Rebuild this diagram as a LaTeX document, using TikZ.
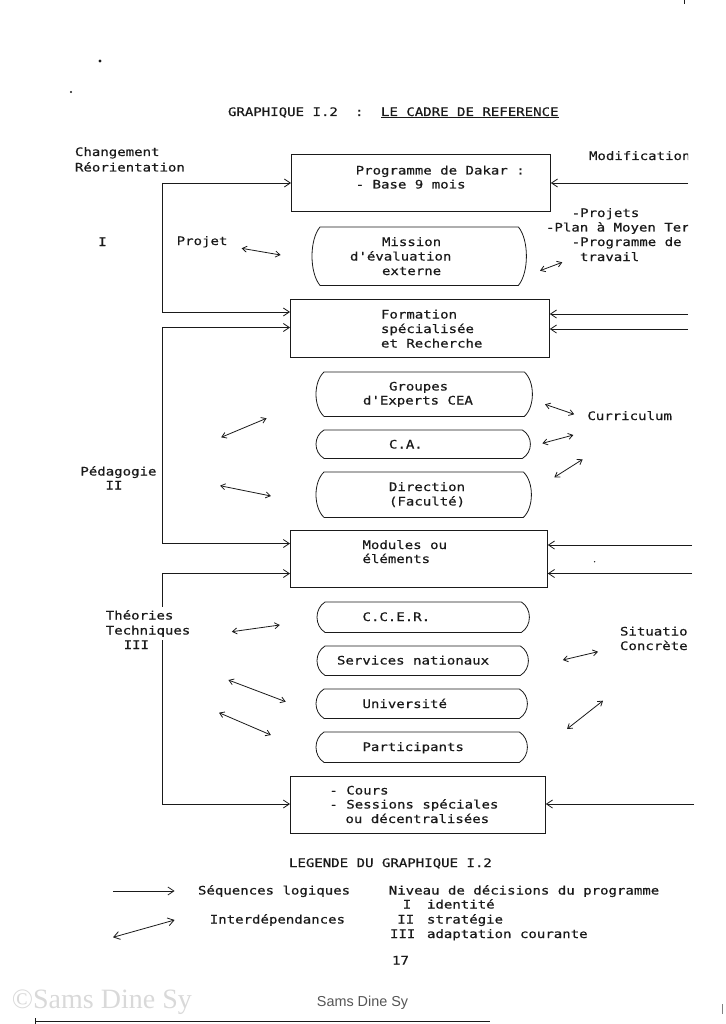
\documentclass[tikz,border=0pt]{standalone}
\usepackage{fontspec}
\newfontfamily\mono[FakeStretch=1.2,FakeBold=0.6]{DejaVu Sans Mono}
\newfontfamily\wmserif{Liberation Serif}
\newfontfamily\wmsans{Liberation Sans}
\usetikzlibrary{arrows.meta,calc}
\definecolor{ink}{HTML}{1A1A1A}
\tikzset{
  txt/.style={font=\mono\fontsize{11.7}{14}\selectfont, inner sep=0pt, outer sep=0pt, anchor=base west, text=ink},
  boxline/.style={draw=ink, line width=0.8pt},
  rbox/.style={boxline, rectangle, inner sep=0pt, anchor=north west},
  cbox/.style={rectangle, inner sep=0pt, anchor=north west},
  seq/.style={draw=ink, line width=0.8pt, -{Straight Barb[length=6pt,width=8pt]}},
  inter/.style={draw=ink, line width=0.8pt, {Straight Barb[length=4.5pt,width=6pt]}-{Straight Barb[length=4.5pt,width=6pt]}},
  speck/.style={fill=ink, draw=none}
}
\newcommand\cshape[1]{%
  \draw[boxline] ($(#1.north west)+(8,0)$) -- ($(#1.north east)+(-8,0)$)
    .. controls ($(#1.north east)!0.22!(#1.south east)+(2.67,0)$) and ($(#1.north east)!0.78!(#1.south east)+(2.67,0)$) .. ($(#1.south east)+(-8,0)$)
    -- ($(#1.south west)+(8,0)$)
    .. controls ($(#1.north west)!0.78!(#1.south west)+(-2.67,0)$) and ($(#1.north west)!0.22!(#1.south west)+(-2.67,0)$) .. cycle;}
\begin{document}
\begin{tikzpicture}[x=1pt,y=-1pt]
\useasboundingbox (0,0) rectangle (725,1024);

% ---------- title
\node[txt] (t1) at (228,116) {GRAPHIQUE I.2};
\node[txt] (t2) at (355,116) {:};
\node[txt] (t3) at (381,116) {\underline{LE CADRE DE REFERENCE}};

% ---------- rectangular boxes
\node[rbox, minimum width=259pt, minimum height=57pt] (dakar) at (291,154) {};
\node[rbox, minimum width=259pt, minimum height=58pt] (form) at (290,299) {};
\node[rbox, minimum width=257pt, minimum height=57pt] (modu) at (290,530) {};
\node[rbox, minimum width=255pt, minimum height=57pt] (cours) at (290,776) {};

% ---------- curved boxes
\node[cbox, minimum width=214pt, minimum height=58pt] (mission) at (312,227) {};
\node[cbox, minimum width=216pt, minimum height=44pt] (groupes) at (316,372) {};
\node[cbox, minimum width=214pt, minimum height=28pt] (ca) at (316,430) {};
\node[cbox, minimum width=215pt, minimum height=45pt] (direc) at (316,472) {};
\node[cbox, minimum width=212pt, minimum height=30pt] (ccer) at (317,602) {};
\node[cbox, minimum width=211pt, minimum height=29pt] (serv) at (317,646) {};
\node[cbox, minimum width=211pt, minimum height=29pt] (univ) at (316,689) {};
\node[cbox, minimum width=211pt, minimum height=30pt] (part) at (316,732) {};
\cshape{mission}\cshape{groupes}\cshape{ca}\cshape{direc}
\cshape{ccer}\cshape{serv}\cshape{univ}\cshape{part}

% ---------- box texts
\node[txt] (d1) at (355.7,174.5) {Programme de Dakar :};
\node[txt] (d2) at (355.7,188.5) {- Base 9 mois};
\node[txt] (m1) at (382,246) {Mission};
\node[txt] (m2) at (350,260.5) {d'évaluation};
\node[txt] (m3) at (382,275) {externe};
\node[txt] (f1) at (381,318.5) {Formation};
\node[txt] (f2) at (381,333) {spécialisée};
\node[txt] (f3) at (381,347.5) {et Recherche};
\node[txt] (g1) at (389,390.5) {Groupes};
\node[txt] (g2) at (363,404.5) {d'Experts CEA};
\node[txt] (c1) at (389,448.5) {C.A.};
\node[txt] (r1) at (389,491) {Direction};
\node[txt] (r2) at (389,505.5) {(Faculté)};
\node[txt] (o1) at (362.5,549) {Modules ou};
\node[txt] (o2) at (362.5,563) {éléments};
\node[txt] (e1) at (362.5,621) {C.C.E.R.};
\node[txt] (s1) at (337,664.5) {Services nationaux};
\node[txt] (u1) at (362.5,708) {Université};
\node[txt] (p1) at (362.5,751) {Participants};
\node[txt] (k1) at (329.4,794.5) {- Cours};
\node[txt] (k2) at (329.4,808.5) {- Sessions spéciales};
\node[txt] (k3) at (345.5,823) {ou décentralisées};

% ---------- left labels
\node[txt] (l1) at (75,156) {Changement};
\node[txt] (l2) at (75,171.5) {Réorientation};
\node[txt] (l3) at (98.2,246) {I};
\node[txt] (l4) at (176.7,245) {Projet};
\node[txt] (l5) at (80.4,475.5) {Pédagogie};
\node[txt] (l6) at (105.5,489.5) {II};

% ---------- right labels (cut by the page edge)
\begin{scope}
\clip (0,0) rectangle (688,1024);
\node[txt] (q1) at (589,160) {Modification};
\node[txt] (q2) at (571.7,217) {-Projets};
\node[txt] (q3) at (546,231.5) {-Plan à Moyen Ter};
\node[txt] (q4) at (571.7,246) {-Programme de};
\node[txt] (q5) at (580,261) {travail};
\node[txt] (q6) at (587.4,420) {Curriculum};
\node[txt] (q7) at (620,635.5) {Situation};
\node[txt] (q8) at (620,650) {Concrètes};
\end{scope}

% ---------- logical sequences (left loops)
\coordinate (L1a) at (162,183);
\coordinate (L1b) at (162,312);
\coordinate (L2a) at (162,327.5);
\coordinate (L2b) at (162,543.5);
\coordinate (L3a) at (162,573.5);
\coordinate (L3b) at (162,804);
\draw[seq] (L1a) -- (L1a -| dakar.west);
\draw[seq] (L1a) -- (L1b) -- (L1b -| form.west);
\draw[seq] (L2a) -- (L2a -| form.west);
\draw[seq] (L2a) -- (L2b) -- (L2b -| modu.west);
\draw[seq] (L3a) -- (L3a -| modu.west);
\draw[seq] (L3a) -- (L3b) -- (L3b -| cours.west);

% labels written over the third loop line
\node[txt, fill=white, inner xsep=1.5pt, inner ysep=3.5pt] (l7) at (104.3,619.5) {Théories};
\node[txt, fill=white, inner xsep=1.5pt, inner ysep=3.5pt] (l8) at (104.3,634.5) {Techniques};
\node[txt] (l9) at (123.7,649) {III};

% ---------- logical sequences (right)
\coordinate (R1) at (688,183);
\coordinate (R2) at (688,314);
\coordinate (R3) at (688,329);
\coordinate (R4) at (692,545);
\coordinate (R5) at (692,573.5);
\coordinate (R6) at (694,804);
\draw[seq] (R1) -- (R1 -| dakar.east);
\draw[seq] (R2) -- (R2 -| form.east);
\draw[seq] (R3) -- (R3 -| form.east);
\draw[seq] (R4) -- (R4 -| modu.east);
\draw[seq] (R5) -- (R5 -| modu.east);
\draw[seq] (R6) -- (R6 -| cours.east);

% ---------- interdependences
\coordinate (a1s) at (241.6,248.3); \coordinate (a1e) at (280.6,255);
\coordinate (a2s) at (540,270.7);   \coordinate (a2e) at (562.3,262.3);
\coordinate (a3s) at (545,404.3);   \coordinate (a3e) at (574.2,414.3);
\coordinate (a4s) at (542.4,443.3); \coordinate (a4e) at (573.4,435);
\coordinate (a5s) at (554.3,477.3); \coordinate (a5e) at (582.7,459.3);
\coordinate (a6s) at (221.2,437.3); \coordinate (a6e) at (266.6,418.3);
\coordinate (a7s) at (220,485.7);   \coordinate (a7e) at (270.9,496);
\coordinate (a8s) at (231.8,631.7); \coordinate (a8e) at (279.8,625);
\coordinate (a9s) at (562.8,660);   \coordinate (a9e) at (598,651.7);
\coordinate (a10s) at (228.4,680);  \coordinate (a10e) at (285.7,701.7);
\coordinate (a11s) at (219,712.7);  \coordinate (a11e) at (270.9,735);
\coordinate (a12s) at (567,729);    \coordinate (a12e) at (603,700.7);
\foreach \i in {1,...,12} {\draw[inter] (a\i s) -- (a\i e);}

% ---------- legend
\node[txt] (g0) at (289,867) {LEGENDE DU GRAPHIQUE I.2};
\coordinate (lg1s) at (113,891); \coordinate (lg1e) at (174.6,891);
\draw[seq] (lg1s) -- (lg1e);
\coordinate (lg2s) at (113,937.3); \coordinate (lg2e) at (174.6,920);
\draw[inter, {Straight Barb[length=6pt,width=8pt]}-{Straight Barb[length=6pt,width=8pt]}] (lg2s) -- (lg2e);
\node[txt] (n1) at (198,894.5) {Séquences logiques};
\node[txt] (n2) at (388.8,894.5) {Niveau de décisions du programme};
\node[txt] (n3) at (402.8,908.5) {I};
\node[txt] (n4) at (427,908.5) {identité};
\node[txt] (n5) at (209.8,923.5) {Interdépendances};
\node[txt] (n6) at (397.3,923.5) {II};
\node[txt] (n7) at (427,923.5) {stratégie};
\node[txt] (n8) at (390,938) {III};
\node[txt] (n9) at (427,938) {adaptation courante};
\node[txt] (pg) at (392,964.5) {17};

% ---------- page marks
\fill[speck] (100,61) circle (1.6pt);
\fill[speck] (71,92) circle (1.2pt);
\fill[speck] (594.6,561.7) circle (0.7pt);
\draw[ink, line width=0.6pt] (684,0) -- (684,4);
\draw[gray, line width=0.6pt] (722,1004) -- (722,1014);
\draw[ink, line width=1.3pt] (35,1021.5) -- (490,1021.5);
\draw[ink, line width=1pt] (35,1018) -- (35,1024);
\node[anchor=west, inner sep=0pt, font=\wmserif\fontsize{28}{30}\selectfont, text=gray!30] (wm) at (11.7,1002) {©Sams Dine Sy};
\node[anchor=west, inner sep=0pt, font=\wmsans\fontsize{14.4}{16}\selectfont, text={rgb,255:red,85;green,85;blue,85}] (wm2) at (316.7,1003) {Sams Dine Sy};
\end{tikzpicture}
\end{document}
